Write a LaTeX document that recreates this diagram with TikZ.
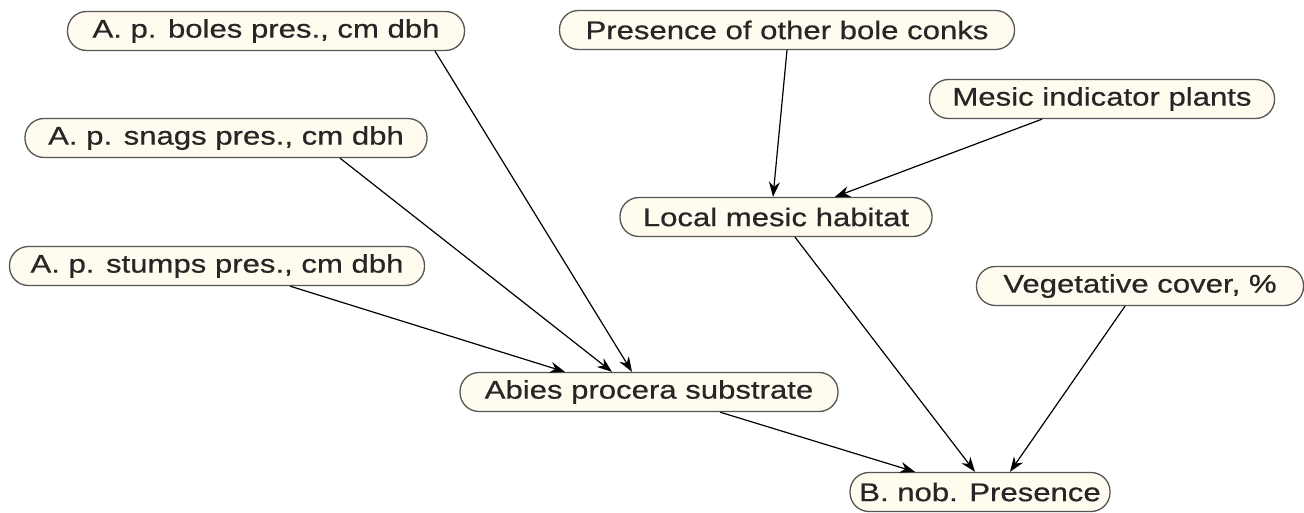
\documentclass[tikz,border=0pt]{standalone}
\usepackage{fontspec}
\setmainfont{Liberation Sans}[FakeStretch=1.22,FakeBold=0.6]
\usetikzlibrary{arrows.meta}
\definecolor{nodefill}{HTML}{FFFBEE}
\definecolor{nodeline}{HTML}{555555}
\begin{document}
\begin{tikzpicture}[x=1pt,y=-1pt,
  var/.style={draw=nodeline, fill=nodefill, line width=1.3pt, rounded corners=19pt,
    minimum height=39pt, inner xsep=2pt, inner ysep=0pt, text=black!85,
    font=\fontsize{25.5pt}{30pt}\selectfont},
  link/.style={line width=1.2pt, -{Stealth[length=15pt,width=11pt]}}]
\useasboundingbox (0,0) rectangle (1304,513);
\node[var, minimum width=397pt] (boles) at (266,31) {A. p. boles pres., cm dbh};
\node[var, minimum width=402pt] (snags) at (226,138) {A. p. snags pres., cm dbh};
\node[var, minimum width=415pt] (stumps) at (217,266) {A. p. stumps pres., cm dbh};
\node[var, minimum width=378pt] (abies) at (649,392) {Abies procera substrate};
\node[var, minimum width=455pt] (conks) at (787,30) {Presence of other bole conks};
\node[var, minimum width=345pt] (mesic) at (1102,99) {Mesic indicator plants};
\node[var, minimum width=312pt] (local) at (776,217) {Local mesic habitat};
\node[var, minimum width=327pt] (veg) at (1140,286) {Vegetative cover, \%};
\node[var, minimum width=260pt] (bnob) at (980,492) {B. nob. Presence};
\draw[link] ([xshift=169pt]boles.south) -- ([xshift=-17pt]abies.north);
\draw[link] ([xshift=114pt]snags.south) -- ([xshift=-37pt]abies.north);
\draw[link] ([xshift=73pt]stumps.south) -- ([xshift=-84pt]abies.north);
\draw[link] (conks.south) -- ([xshift=-3pt]local.north);
\draw[link] ([xshift=-60pt]mesic.south) -- ([xshift=59pt]local.north);
\draw[link] ([xshift=19pt]local.south) -- ([xshift=-5pt]bnob.north);
\draw[link] ([xshift=-15pt]veg.south) -- ([xshift=30pt]bnob.north);
\draw[link] ([xshift=71pt]abies.south) -- ([xshift=-65pt]bnob.north);
\end{tikzpicture}
\end{document}
